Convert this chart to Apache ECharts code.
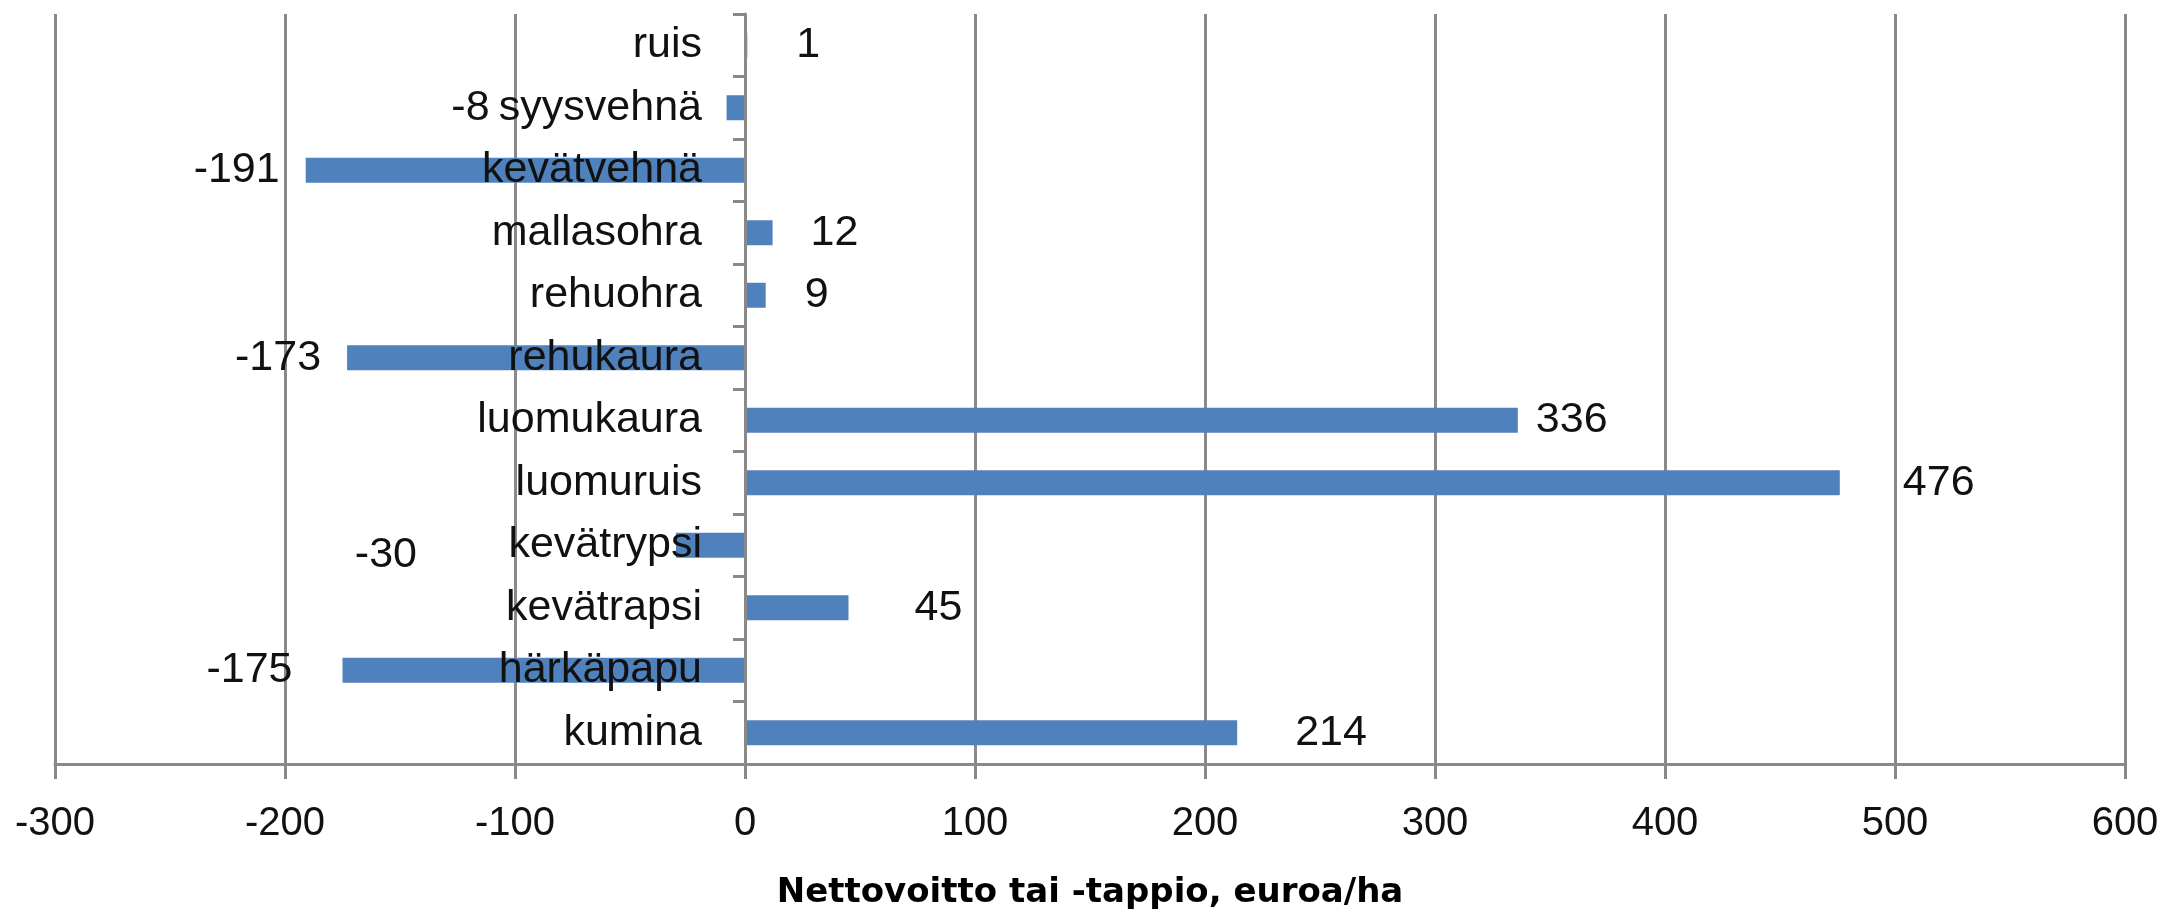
<!DOCTYPE html>
<html>
<head>
<meta charset="utf-8">
<script src="https://cdn.jsdelivr.net/npm/echarts@6/dist/echarts.min.js"></script>
<style>
  html, body { margin: 0; padding: 0; background: #fff; }
  #main { width: 2167px; height: 915px; }
</style>
</head>
<body>
<div id="main"></div>
<script>
// kasvit ylhäältä alas
var crops = ['ruis', 'syysvehnä', 'kevätvehnä', 'mallasohra', 'rehuohra', 'rehukaura',
             'luomukaura', 'luomuruis', 'kevätrypsi', 'kevätrapsi', 'härkäpapu', 'kumina'];
var netValues = [1, -8, -191, 12, 9, -173, 336, 476, -30, 45, -175, 214];
var xTicks = [-300, -200, -100, 0, 100, 200, 300, 400, 500, 600];

// label spacing as placed in the original (px from bar end)
var labelGap = [49, 237, 26, 38, 39, 26, 18, 63, 259, 66, 50, 58];
var labelDrop = [0, 0, 0, 0, 0, 0, 0, 0, 10, 0, 0, 0];

var FONT = '"Liberation Sans", Arial, sans-serif';
var GRAY = '#898989';
var GRID_LEFT = 55;

var chart = echarts.init(document.getElementById('main'));

var barData = netValues.map(function (v, i) {
  return {
    value: v,
    label: {
      position: v >= 0 ? 'right' : 'left',
      distance: labelGap[i],
      offset: [0, labelDrop[i]]
    }
  };
});

var option = {
  animation: false,
  grid: { left: GRID_LEFT, right: 42, top: 14, bottom: 151, outerBoundsMode: 'none', containLabel: false },
  xAxis: {
    type: 'value',
    min: xTicks[0],
    max: xTicks[xTicks.length - 1],
    interval: 100,
    name: 'Nettovoitto tai -tappio, euroa/ha',
    nameLocation: 'middle',
    nameGap: 112,
    nameTextStyle: { fontFamily: '"DejaVu Sans", sans-serif', fontWeight: 'bold', fontSize: 34, color: '#000' },
    axisLine: { show: true, onZero: false, lineStyle: { color: GRAY, width: 3 } },
    axisTick: { show: true, inside: false, length: 15, lineStyle: { color: GRAY, width: 3 } },
    axisLabel: { margin: 40, fontFamily: FONT, fontSize: 40, color: '#111' },
    splitLine: { show: true, lineStyle: { color: GRAY, width: 3 } }
  },
  yAxis: {
    type: 'category',
    data: crops,
    inverse: true,
    offset: 0,
    z: 5,
    axisLine: { show: true, onZero: false, lineStyle: { color: GRAY, width: 3 } },
    axisTick: { show: true, length: 12, alignWithLabel: false, lineStyle: { color: GRAY, width: 3 } },
    axisLabel: { margin: 43, fontFamily: FONT, fontSize: 43, color: '#111' },
    splitLine: { show: false }
  },
  series: [{
    type: 'bar',
    data: barData,
    barWidth: 25,
    itemStyle: { color: '#4F81BD' },
    label: { show: true, fontFamily: FONT, fontSize: 43, color: '#111' }
  }]
};

chart.setOption(option);

// move the category axis (line, ticks, labels) onto x = 0
var zeroX = chart.convertToPixel({ xAxisIndex: 0 }, 0);
chart.setOption({ yAxis: { offset: -(zeroX - GRID_LEFT) } });
</script>
</body>
</html>
